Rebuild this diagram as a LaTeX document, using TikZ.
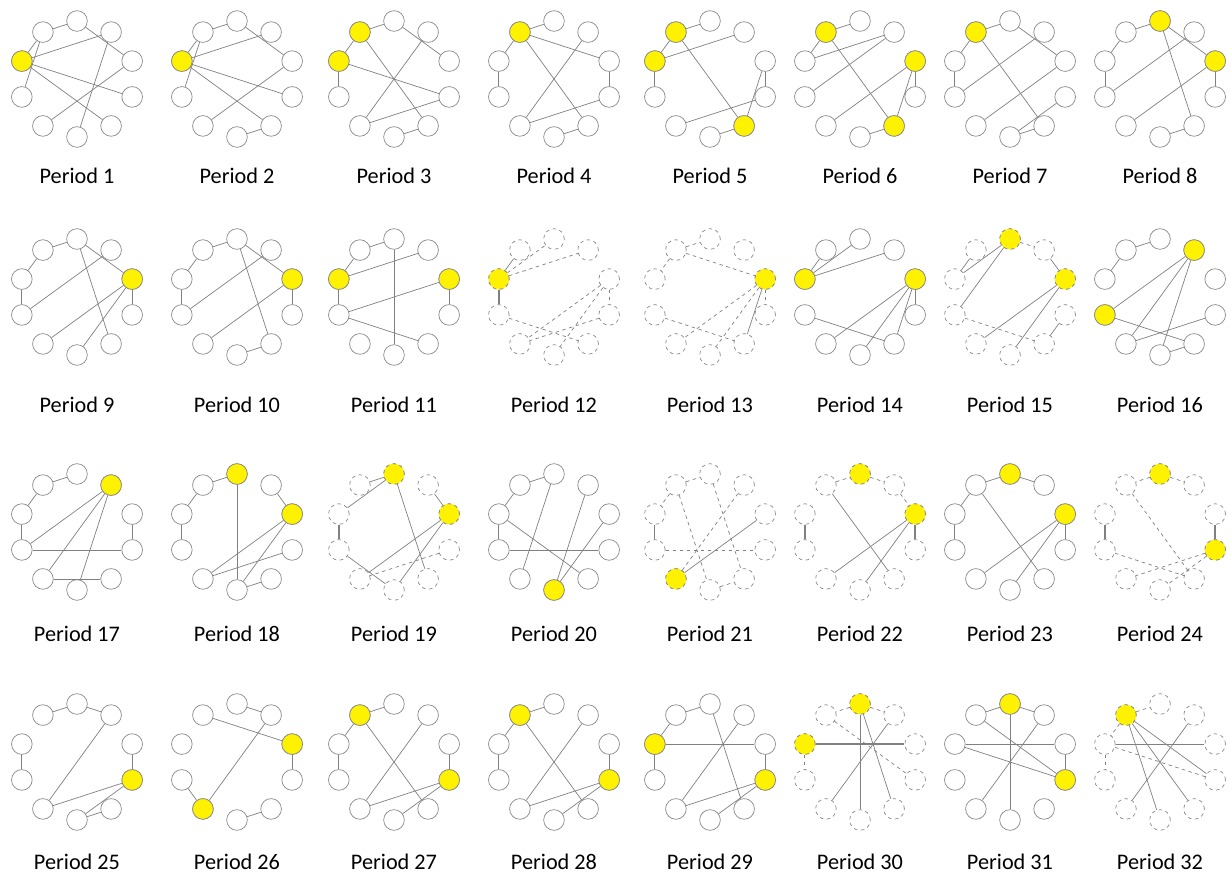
\documentclass[tikz,border=0pt]{standalone}
\usepackage{fontspec}
\setmainfont{Carlito}
\usepackage{xcolor}
\usetikzlibrary{calc}
\definecolor{rim}{HTML}{8A8A8A}
\definecolor{wire}{HTML}{808080}
\definecolor{hi}{HTML}{FFF200}

\tikzset{
  pnode/.style={circle, draw=rim, fill=white, line width=0.6pt,
                minimum size=0.62cm, inner sep=0pt},
  hl/.style={fill=hi},
  es/.style={draw=wire, line width=0.6pt},
  ed/.style={es, dashed},
  et/.style={es, line width=1.2pt},
  plabel/.style={font=\fontsize{19}{22}\selectfont, text=black}
}

% #1 period, #2 x, #3 y of ring, #4 y of label,
% #5 yellow nodes, #6 edges a/b/kind, #7 node border
\newcommand{\period}[7]{%
  \foreach \i in {0,...,9}
    \node[pnode, #7] (p#1n\i) at ($(#2,-#3)+({90-36*\i}:58)$) {};
  \foreach \i in {#5}
    \node[pnode, hl, #7] (p#1y\i) at (p#1n\i) {};
  \foreach \a/\b/\k in {#6}
    \draw[e\k] (p#1n\a) -- (p#1n\b);
  \node[plabel] (lab#1) at (#2,-#4) {Period #1};
}

\begin{document}
\begin{tikzpicture}[x=0.03cm, y=0.03cm]
\useasboundingbox (0,0) rectangle (1231,-873);

% row 1
\period{1}{77}{79}{176}{8}{9/0/s,0/2/s,8/1/s,8/3/s,8/4/s,9/8/s,9/7/s,1/5/s,2/6/s}{}
\period{2}{237}{79}{176}{8}{9/0/s,0/2/s,8/1/s,8/3/s,8/4/s,9/8/s,9/7/s,2/6/s,5/4/s}{}
\period{3}{394}{79}{176}{9,8}{9/0/s,0/2/s,9/8/s,8/7/s,9/4/s,8/3/s,1/6/s,6/3/s,5/4/s}{}
\period{4}{554}{79}{176}{9}{9/0/s,9/8/s,8/7/s,9/2/s,9/4/s,1/6/s,2/3/s,3/6/s,5/4/s}{}
\period{5}{710}{79}{176}{9,8,4}{9/0/s,9/8/s,8/7/s,8/1/s,9/4/s,2/4/s,2/3/s,6/3/s,5/4/s}{}
\period{6}{860}{79}{176}{9,2,4}{9/0/s,9/8/s,8/1/s,7/1/s,9/4/s,2/6/s,2/3/s,2/4/s,5/4/s}{}
\period{7}{1010}{79}{176}{9}{9/0/s,0/2/s,9/8/s,8/7/s,7/1/s,9/4/s,2/6/s,3/5/s,4/5/s}{}
\period{8}{1160}{79}{176}{0,2}{9/0/s,9/8/s,8/7/s,0/2/s,0/4/s,7/1/s,2/6/s,2/3/s,5/4/s}{}

% row 2
\period{9}{77}{297}{405}{2}{9/0/s,9/8/s,8/7/s,0/2/s,0/4/s,7/1/s,2/6/s,2/3/s,2/5/s}{}
\period{10}{237}{297}{405}{2}{9/0/s,9/8/s,8/7/s,0/2/s,0/4/s,7/1/s,2/6/s,2/3/s,5/4/s}{}
\period{11}{394}{297}{405}{8,2}{9/0/s,9/8/s,8/7/s,8/1/s,7/2/s,0/5/s,2/3/s,7/4/s}{}
\period{12}{554}{297}{405}{8}{8/9/s,8/0/d,8/1/d,8/7/t,7/4/d,2/6/d,3/6/d,2/5/d,2/3/d}{dashed}
\period{13}{710}{297}{405}{2}{9/0/d,9/8/d,9/2/d,7/4/d,2/6/d,2/5/d,2/4/s,2/3/d}{dashed}
\period{14}{860}{297}{405}{8,2}{8/9/s,8/0/s,8/1/s,7/4/s,2/6/s,2/5/s,2/4/s,2/3/s}{}
\period{15}{1010}{297}{405}{0,2}{0/1/d,1/2/s,9/8/s,0/8/s,0/7/s,7/4/d,2/6/s,2/5/s,3/4/s}{dashed}
\period{16}{1160}{297}{405}{1,7}{9/0/s,9/8/s,1/7/s,1/6/s,1/5/s,7/4/s,6/3/s,5/4/s}{}

% row 3
\period{17}{77}{532}{634}{1}{9/0/s,9/8/s,8/7/s,1/7/s,1/6/s,1/5/s,7/3/s,6/4/s,2/3/s}{}
\period{18}{237}{532}{634}{0,2}{9/0/s,9/8/s,8/7/s,0/5/s,1/2/s,2/6/s,2/5/s,6/3/s,5/4/s}{}
\period{19}{394}{532}{634}{0,2}{9/0/s,8/0/s,8/7/t,1/2/s,0/4/s,2/6/s,2/5/s,7/5/s,3/6/d}{dashed}
\period{20}{554}{532}{634}{5}{9/0/s,9/8/s,8/7/s,8/4/s,0/6/s,5/1/s,5/2/s,7/3/s}{}
\period{21}{710}{532}{634}{6}{9/0/d,9/8/d,8/7/s,0/4/d,9/5/d,6/1/d,6/2/s,7/3/d,5/4/d}{dashed}
\period{22}{860}{532}{634}{0,2}{9/0/d,0/1/d,8/7/t,9/4/s,2/6/s,2/5/s,2/3/t,1/2/d}{dashed}
\period{23}{1010}{532}{634}{0,2}{9/0/s,9/8/s,8/7/s,9/4/s,2/6/s,2/5/s,2/3/s,0/1/s}{}
\period{24}{1160}{532}{634}{0,3}{0/1/d,0/9/d,8/7/t,2/3/t,3/6/d,3/5/d,9/4/d,7/4/d}{dashed}

% row 4
\period{25}{77}{762}{862}{3}{9/0/s,0/1/s,2/3/s,8/7/s,1/6/s,3/6/s,3/5/s,5/4/s}{}
\period{26}{237}{762}{862}{2,6}{9/2/s,0/1/s,2/3/s,6/1/s,6/7/s,5/4/s}{}
\period{27}{394}{762}{862}{9,3}{9/0/s,9/8/s,8/7/s,9/4/s,1/6/s,3/6/s,3/5/s,2/3/s}{}
\period{28}{554}{762}{862}{9,3}{9/0/s,9/8/s,8/7/s,9/4/s,1/6/s,3/6/s,3/5/s,2/3/s}{}
\period{29}{710}{762}{862}{8,3}{9/0/s,9/8/s,8/7/s,8/2/s,0/4/s,1/6/s,3/6/s,3/5/s,2/3/s}{}
\period{30}{860}{762}{862}{0,8}{8/2/t,0/4/s,0/5/s,1/6/s,9/3/d,0/9/d,0/1/d,8/7/d}{dashed}
\period{31}{1010}{762}{862}{0,3}{9/0/s,0/1/s,8/2/s,0/5/s,9/3/s,8/3/s,1/6/s,2/3/s}{}
\period{32}{1160}{762}{862}{9}{9/0/d,9/8/d,8/2/s,9/3/s,9/4/s,9/5/s,8/3/d,8/7/d,1/6/s}{dashed}
\end{tikzpicture}
\end{document}
